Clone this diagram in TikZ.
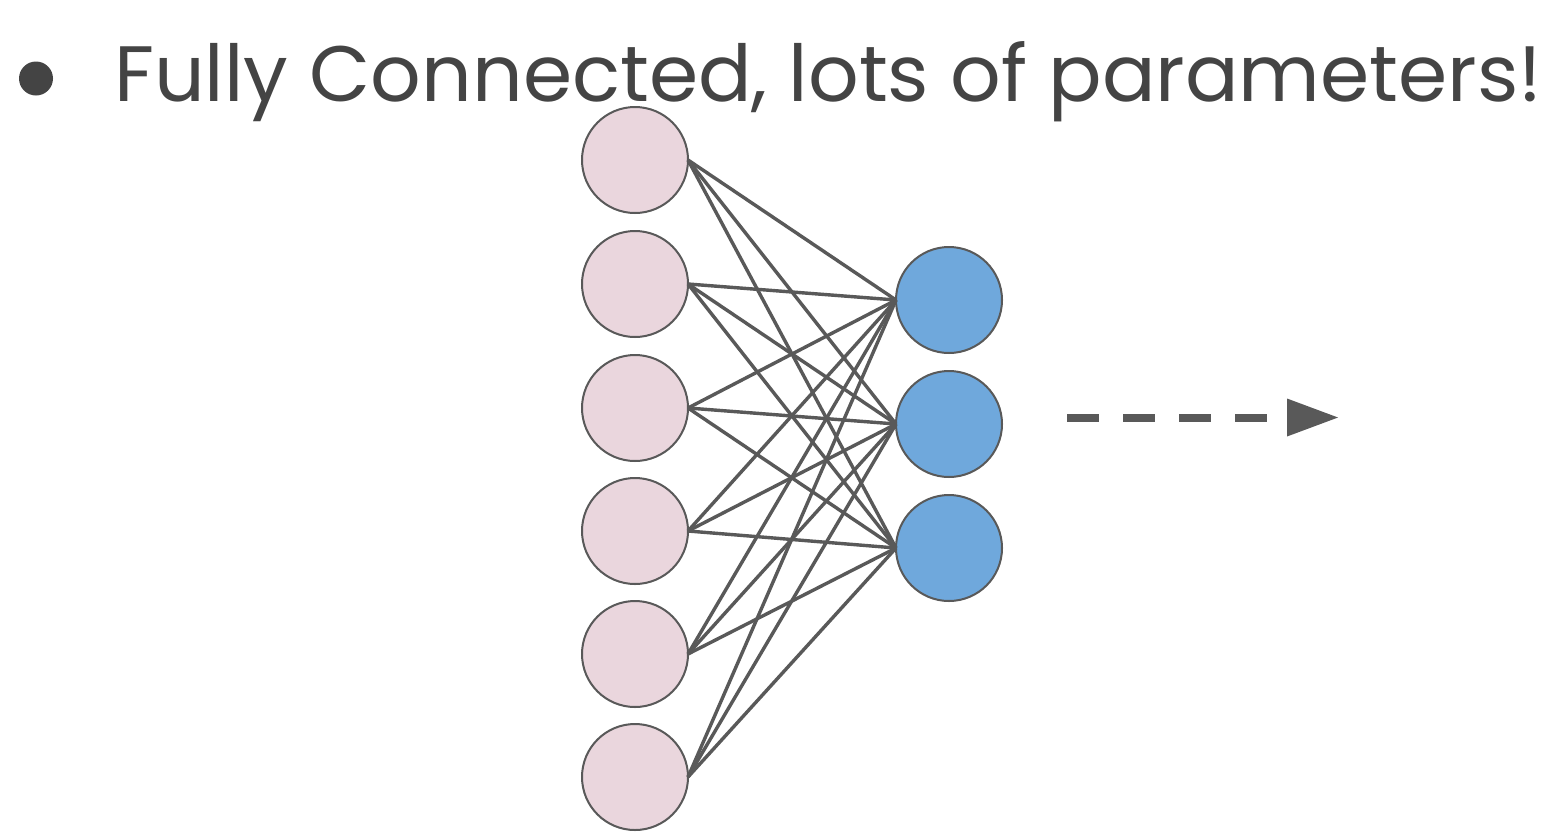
\documentclass[tikz,border=0pt]{standalone}
\usepackage{graphicx}
\usepackage{fontspec}
\newfontfamily\titlefont{Poppins}
\definecolor{txt}{HTML}{444444}
\definecolor{edge}{HTML}{595959}
\definecolor{pinkfill}{HTML}{EAD6DD}
\definecolor{bluefill}{HTML}{6FA8DC}
\begin{document}
\begin{tikzpicture}[x=1pt,y=-1pt,
  inneuron/.style={circle,draw=edge,line width=2pt,fill=pinkfill,minimum size=106pt,inner sep=0pt,outer sep=0pt},
  outneuron/.style={circle,draw=edge,line width=2pt,fill=bluefill,minimum size=106pt,inner sep=0pt,outer sep=0pt},
  conn/.style={draw=edge,line width=3.4pt},
  dasharrow/.style={draw=edge,line width=8pt,dash pattern=on 32pt off 24pt}]
\useasboundingbox (0,0) rectangle (1563,839);
\fill[white] (0,0) rectangle (1563,839);
% title
\fill[txt] (36,78.5) circle (17pt);
\node[anchor=base west,inner sep=0pt,text=txt,font=\titlefont\fontsize{80}{90}\selectfont] (title) at (114,101) {\resizebox{1428pt}{60pt}{Fully Connected, lots of parameters!}};
\foreach \i/\y in {1/160,2/284,3/408,4/531,5/654,6/777}{
  \node[inneuron] (in\i) at (635,\y) {};
}
\foreach \j/\y in {1/300,2/424,3/548}{
  \node[outneuron] (out\j) at (949,\y) {};
}
\foreach \i in {1,...,6}{
  \foreach \j in {1,2,3}{
    \draw[conn] (in\i.east) -- (out\j.west);
  }
}
% arrow
\coordinate (a0) at (1067,417.5);
\coordinate (a1) at (1287,417.5);
\coordinate (a2) at (1338,417.5);
\draw[dasharrow] (a0) -- (a1);
\fill[edge] (1287,398.5) -- (a2) -- (1287,436.5) -- cycle;
\end{tikzpicture}
\end{document}
